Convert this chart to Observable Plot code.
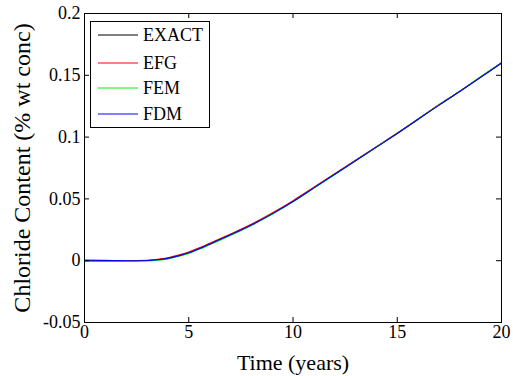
<!DOCTYPE html>
<html>
<head>
<meta charset="utf-8">
<script src="https://cdn.jsdelivr.net/npm/d3@7"></script>
<script src="https://cdn.jsdelivr.net/npm/@observablehq/plot@0.6"></script>
<style>
  html, body { margin: 0; padding: 0; background: white; }
  #wrap { position: relative; width: 513px; height: 376px; font-family: "Liberation Serif", "Times New Roman", Tinos, "DejaVu Serif", serif; }
  #wrap svg text { font-family: "Liberation Serif", "Times New Roman", Tinos, "DejaVu Serif", serif; }
  #legend { position: absolute; left: 90px; top: 21px; width: 120px; height: 107px; border: 1px solid black; background: white; box-sizing: border-box; }
  .row { position: absolute; left: 0; height: 20px; display: flex; align-items: center; }
  .row svg { margin-left: 7px; }
  .row span { margin-left: 5px; font-size: 18px; color: black; line-height: 20px; }
</style>
</head>
<body>
<div id="wrap"></div>
<script>
// ---- data ----
const times = [0, 1, 2, 3, 3.5, 4, 4.5, 5, 5.5, 6, 7, 8, 9, 10, 11, 12, 13, 14, 15, 16, 17, 18, 19, 20];
const exact = [0, 0, 0, 0.0002, 0.0008, 0.002, 0.004, 0.0065, 0.0098, 0.0135, 0.021, 0.029, 0.038, 0.048, 0.059, 0.070, 0.081, 0.092, 0.103, 0.1145, 0.126, 0.137, 0.1485, 0.160];
const efg   = [0.0006, 0.0003, 0, 0.0004, 0.0011, 0.0024, 0.0045, 0.0071, 0.0104, 0.0141, 0.0216, 0.0295, 0.0386, 0.0486, 0.0594, 0.0704, 0.0813, 0.0923, 0.1033, 0.1147, 0.1262, 0.1372, 0.1487, 0.1602];
const fem   = [-0.0003, -0.0004, -0.0004, -0.0002, 0.0004, 0.0015, 0.0035, 0.0059, 0.0092, 0.0129, 0.0204, 0.0285, 0.0375, 0.0476, 0.0587, 0.0698, 0.0808, 0.0919, 0.1030, 0.1146, 0.1261, 0.1372, 0.1488, 0.1603];
const fdm   = [0, 0.0001, 0, 0.0002, 0.0008, 0.0019, 0.0039, 0.0064, 0.0097, 0.0134, 0.0209, 0.0289, 0.0379, 0.0479, 0.0589, 0.0699, 0.0809, 0.0919, 0.1029, 0.1144, 0.1259, 0.1369, 0.1484, 0.1599];
const seriesNames = ["EXACT", "EFG", "FEM", "FDM"];
const seriesColors = ["#000000", "#ff0000", "#00ee00", "#0000ff"];
const xTicks = [0, 5, 10, 15, 20];
const yTicks = [-0.05, 0, 0.05, 0.1, 0.15, 0.2];
const yTickLabels = ["-0.05", "0", "0.05", "0.1", "0.15", "0.2"];
const xLabel = "Time (years)";
const yLabel = "Chloride Content (% wt conc)";

const seriesValues = [exact, efg, fem, fdm];

const W = 513, H = 376, ML = 84, MR = 12, MT = 13, MB = 54;
const innerW = W - ML - MR, innerH = H - MT - MB;
const TICK = 5;

const lineMarks = seriesValues.map((vals, i) =>
  Plot.lineY(vals, {x: times, y: vals, stroke: seriesColors[i], strokeWidth: 1.1, curve: "monotone-x"})
);

const serif = "'Liberation Serif', 'Times New Roman', Tinos, 'DejaVu Serif', serif";

const chart = Plot.plot({
  width: W,
  height: H,
  marginLeft: ML,
  marginRight: MR,
  marginTop: MT,
  marginBottom: MB,
  style: {fontFamily: serif, fontSize: "18px", color: "black", background: "white"},
  x: {domain: [0, 20]},
  y: {domain: [-0.05, 0.2]},
  marks: [
    ...lineMarks,
    Plot.frame({stroke: "black", strokeWidth: 1}),
    // tick labels (bottom / left)
    Plot.axisX({anchor: "bottom", ticks: xTicks, tickSize: 0, tickPadding: 3, fontSize: 18, label: null, tickFormat: d => String(d)}),
    Plot.axisY({anchor: "left", ticks: yTicks, tickSize: 0, tickPadding: 4, fontSize: 18, label: null,
      tickFormat: d => yTickLabels[yTicks.indexOf(d)]}),
    // inward tick marks on all four sides (MATLAB style)
    Plot.ruleX(xTicks, {x: d => d, insetTop: innerH - TICK, stroke: "black"}),
    Plot.ruleX(xTicks, {x: d => d, insetBottom: innerH - TICK, stroke: "black"}),
    Plot.ruleY(yTicks, {y: d => d, insetRight: innerW - TICK, stroke: "black"}),
    Plot.ruleY(yTicks, {y: d => d, insetLeft: innerW - TICK, stroke: "black"}),
    // axis titles
    Plot.axisX({anchor: "bottom", ticks: [], label: xLabel, labelAnchor: "center", labelArrow: "none", labelOffset: 47, fontSize: 22}),
    Plot.axisY({anchor: "left", ticks: [], label: yLabel, labelAnchor: "center", labelArrow: "none", labelOffset: 72, fontSize: 24})
  ]
});

const wrap = document.getElementById("wrap");
wrap.appendChild(chart);

// legend box (MATLAB style)
const legend = document.createElement("div");
legend.id = "legend";
const rowTops = [3, 31, 56, 82];
seriesNames.forEach((name, i) => {
  const row = document.createElement("div");
  row.className = "row";
  row.style.top = rowTops[i] + "px";
  row.innerHTML = `<svg width="40" height="4"><line x1="0" y1="2" x2="40" y2="2" stroke="${seriesColors[i]}" stroke-width="1"/></svg><span>${name}</span>`;
  legend.appendChild(row);
});
wrap.appendChild(legend);
</script>
</body>
</html>
